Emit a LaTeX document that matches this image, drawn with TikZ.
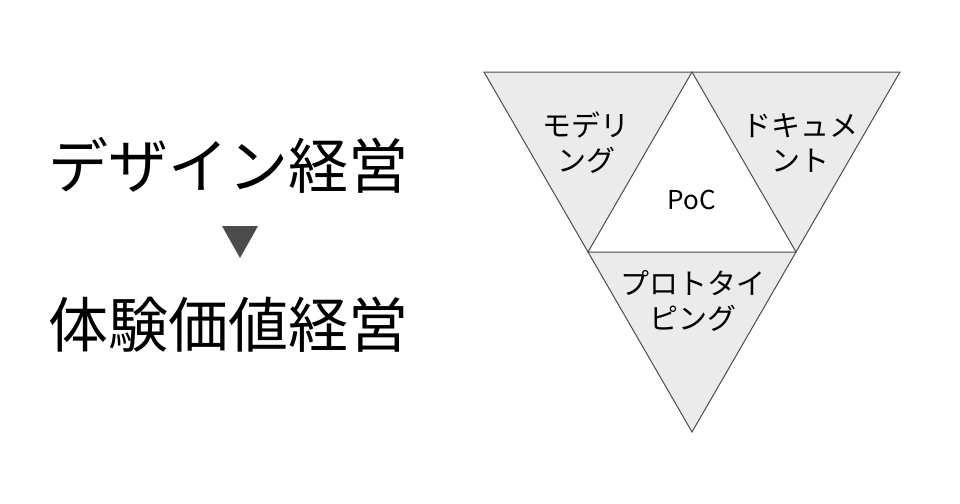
\documentclass[tikz,border=0pt]{standalone}
\usepackage{fontspec}
\setmainfont{Noto Sans CJK JP}
\begin{document}
\begin{tikzpicture}[x=1pt,y=-1pt]
\useasboundingbox (0,0) rectangle (960,503);
\tikzset{lab/.style={align=center,font=\fontsize{29}{35}\selectfont},big/.style={font=\fontsize{60}{70}\selectfont}}
\coordinate (A) at (484,72); \coordinate (B) at (900,72); \coordinate (C) at (692,432);
\coordinate (M1) at (692,72); \coordinate (M2) at (588,252); \coordinate (M3) at (796,252);
\draw[fill=black!8,draw=black!70,line width=1pt] (A) -- (B) -- (C) -- cycle;
\draw[fill=white,draw=black!70,line width=1pt] (M1) -- (M2) -- (M3) -- cycle;
\node[lab] (t1) at (586,143) {モデリ\\ング};
\node[lab] (t2) at (800,143) {ドキュメ\\ント};
\node[lab,font=\fontsize{26}{30}\selectfont] (t3) at (692,200) {PoC};
\node[lab] (t4) at (693,301) {プロトタイ\\ピング};
\node[big] (d1) at (228,165) {デザイン経営};
\node[big] (d2) at (228,325) {体験価値経営};
\fill[black!70] (222,226) -- (258,226) -- (240,258) -- cycle;
\end{tikzpicture}
\end{document}
